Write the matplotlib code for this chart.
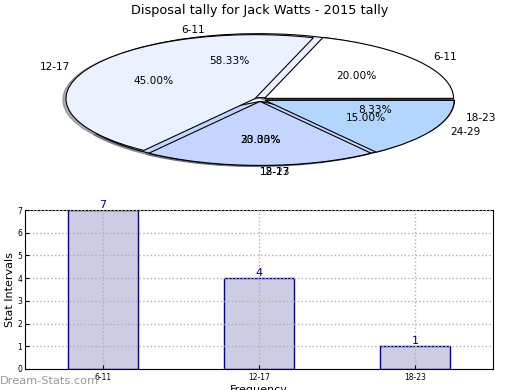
import matplotlib
matplotlib.use("Agg")
import matplotlib.pyplot as plt

title = "Disposal tally for Jack Watts - 2015 tally"

# Pie A (underneath): bar-chart tallies
pie_a_labels = ["6-11", "12-17", "18-23"]
pie_a_values = [7, 4, 1]
# Pie B (on top)
pie_b_labels = ["6-11", "12-17", "18-23", "24-29"]
pie_b_values = [20, 45, 20, 15]

bar_categories = ["6-11", "12-17", "18-23"]
bar_values = [7, 4, 1]

pie_a_colors = ["#ebf1ff", "#c4d6ff", "#b3d6ff"]
pie_b_colors = ["#ffffff", "#ebf1ff", "#c4d6ff", "#b3d6ff"]

fig = plt.figure(figsize=(5.2, 3.9), dpi=100)

# ---------- pie ----------
W, H = 520.0, 390.0
cx, cy = 260.0, 99.5
rx, ry = 189.0, 64.0
axp = fig.add_axes([(cx - 1.25 * rx) / W, (H - cy - 1.25 * ry) / H,
                    2.5 * rx / W, 2.5 * ry / H])
axp.pie(pie_a_values, labels=pie_a_labels, colors=pie_a_colors,
        autopct="%.2f%%", explode=[0.03] * len(pie_a_values),
        shadow=dict(ox=-0.012, oy=-0.012, shade=0.6),
        startangle=0, wedgeprops=dict(edgecolor="black", linewidth=0.8),
        textprops=dict(fontsize=7.6))
axp.pie(pie_b_values, labels=pie_b_labels, colors=pie_b_colors,
        autopct="%.2f%%", explode=[0.03] * len(pie_b_values),
        shadow=dict(ox=-0.012, oy=-0.012, shade=0.6),
        startangle=0, wedgeprops=dict(edgecolor="black", linewidth=0.8),
        textprops=dict(fontsize=7.6))
axp.set_aspect("auto")
axp.set_xlim(-1.25, 1.25)
axp.set_ylim(-1.25, 1.25)
fig.text(0.5, 1 - 10.5 / H, title, ha="center", va="center", fontsize=9.3)

# ---------- bar ----------
axb = fig.add_axes([25 / W, 21 / H, 468 / W, 159 / H])
x = list(range(len(bar_categories)))
bars = axb.bar(x, bar_values, width=0.45, color=(0, 0, 0.5, 0.2),
               edgecolor="navy", linewidth=1.0, zorder=1)
for xi, v in zip(x, bar_values):
    axb.text(xi, v, str(v), ha="center", va="bottom", color="navy",
             fontsize=8, zorder=3)
axb.set_xlim(-0.5, 2.5)
axb.set_ylim(0, 7)
axb.set_xticks(x)
axb.set_xticklabels(bar_categories, fontsize=5.5)
axb.set_yticks(range(0, 8))
axb.tick_params(axis="y", labelsize=5.5, direction="in", length=3, pad=2)
axb.tick_params(axis="x", direction="in", length=3, pad=3)
axb.grid(True, linestyle=":", color="#b0b0b0", linewidth=1.0, zorder=2)
axb.set_axisbelow(False)
axb.set_ylabel("Stat Intervals", fontsize=8, labelpad=2)
axb.set_xlabel("Frequency", fontsize=8, labelpad=2)

fig.text(0.0, 1 - 381 / H, "Dream-Stats.com", ha="left", va="center",
         fontsize=8.2, color="#999999")

fig.savefig("out.png", dpi=100)
